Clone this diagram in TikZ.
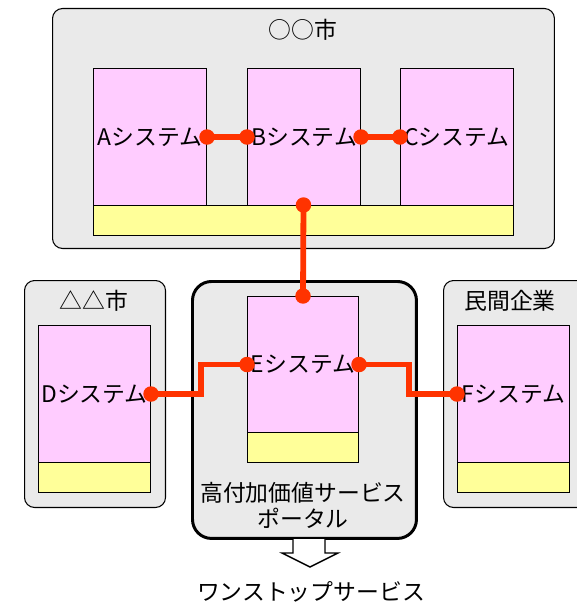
\documentclass[tikz,border=0pt]{standalone}
\usepackage{fontspec}
\setmainfont{Noto Sans CJK JP}
\definecolor{areagray}{HTML}{EAEAEA}
\definecolor{syspink}{HTML}{FFCCFF}
\definecolor{dbyellow}{HTML}{FFFF99}
\definecolor{linkred}{HTML}{FF3300}
\begin{document}
\begin{tikzpicture}[x=0.02cm,y=-0.02cm,
		every node/.style={font=\fontsize{13}{15}\selectfont},
		area/.style={draw,line width=0.6pt,fill=areagray,rounded corners=0.2cm,anchor=north west,inner sep=0},
		portalbox/.style={area,line width=1.7pt,rounded corners=0.38cm},
		sys/.style={draw,line width=0.6pt,fill=syspink,anchor=north west,inner sep=0,minimum width=#1},
		db/.style={draw,line width=0.6pt,fill=dbyellow,anchor=north west,inner sep=0,minimum width=#1,minimum height=0.6cm},
		link/.style={draw=linkred,line width=3.3pt},
		dot/.style={fill=linkred}]
	\useasboundingbox (0,0) rectangle (576,604);

	\node[area,minimum width=10.04cm,minimum height=4.8cm] (city) at (52,8) {};
	\node (citytitle) at (303,30) {○○市};
	\node[sys=2.26cm,minimum height=2.74cm] (A) at (93,68) {Aシステム};
	\node[sys=2.26cm,minimum height=2.74cm] (B) at (247,68) {Bシステム};
	\node[sys=2.26cm,minimum height=2.74cm] (C) at (400,68) {Cシステム};
	\node[db=8.4cm] (citydb) at (93,205) {};

	\node[area,minimum width=2.82cm,minimum height=4.54cm] (ward) at (24,280) {};
	\node (wardtitle) at (94,301) {△△市};
	\node[sys=2.24cm,minimum height=2.74cm] (D) at (38,325) {Dシステム};
	\node[db=2.24cm] (Ddb) at (38,462) {};

	\node[portalbox,minimum width=4.48cm,minimum height=5.14cm] (portal) at (191,280) {};
	\node[sys=2.22cm,minimum height=2.72cm] (E) at (247,296) {Eシステム};
	\node[db=2.22cm] (Edb) at (247,432) {};
	\node[align=center,font=\fontsize{13}{14.8}\selectfont] (portaltitle) at (303,505) {高付加価値サービス\\ポータル};

	\node[area,minimum width=2.9cm,minimum height=4.54cm] (corp) at (443,280) {};
	\node (corptitle) at (510,301) {民間企業};
	\node[sys=2.24cm,minimum height=2.74cm] (F) at (457,325) {Fシステム};
	\node[db=2.24cm] (Fdb) at (457,462) {};

	\draw[link] (A.east) -- (B.west);
	\draw[link] (B.east) -- (C.west);
	\draw[link] (citydb.north) -- (E.north);
	\draw[link] (D.east) -- ++(50,0) |- (E.west);
	\draw[link] (E.east) -- ++(50,0) |- (F.west);
	\foreach \p in {A.east,B.west,B.east,C.west,citydb.north,E.north,D.east,E.west,E.east,F.west}
		\fill[dot] (\p) circle[radius=0.155cm];

	\draw[line width=0.8pt,fill=white] (293,539) -- (293,553) -- (282,553) -- (310,567) -- (338,553) -- (325,553) -- (325,539);
	\node (onestop) at (311,592) {ワンストップサービス};
\end{tikzpicture}
\end{document}
